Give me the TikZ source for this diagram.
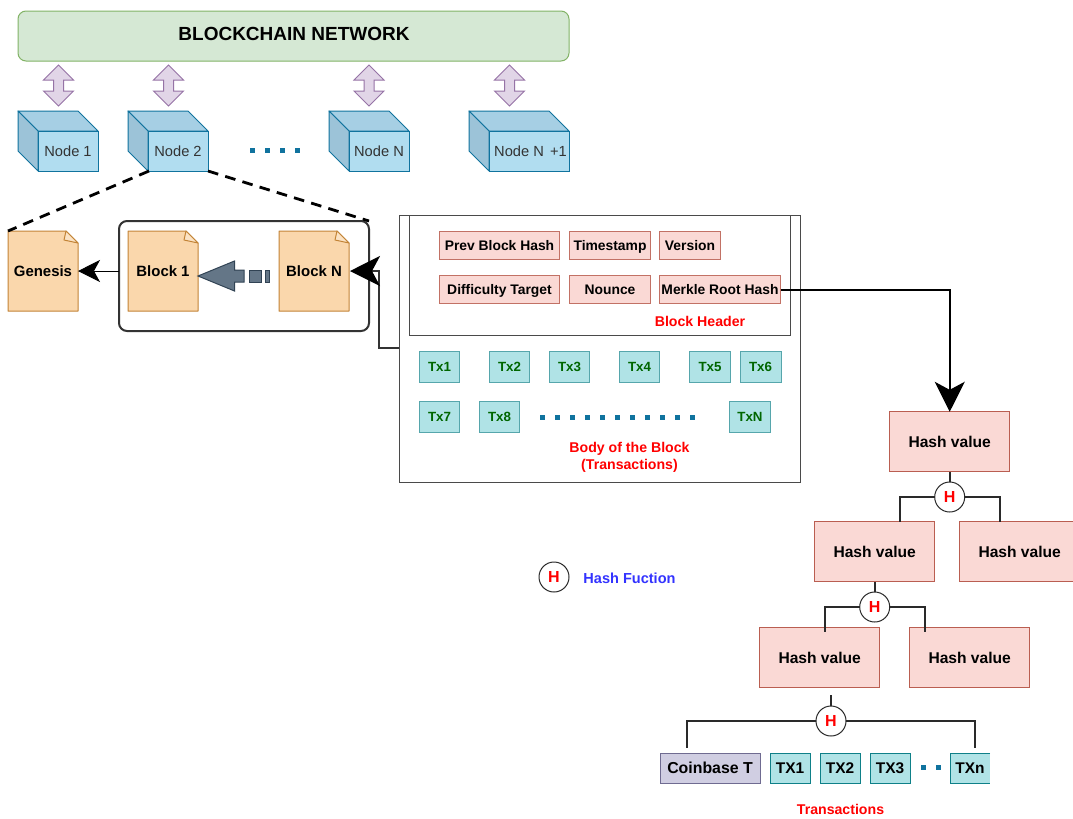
\documentclass[tikz,border=0pt]{standalone}
\usepackage{fontspec}
\setmainfont{Liberation Sans}
\usetikzlibrary{arrows.meta,calc}
\definecolor{netfill}{HTML}{D5E8D4}\definecolor{netline}{HTML}{82B366}
\definecolor{purfill}{HTML}{E1D5E7}\definecolor{purline}{HTML}{9673A6}
\definecolor{cubefill}{HTML}{B1DDF0}\definecolor{cubetop}{HTML}{A6CFE4}\definecolor{cubeside}{HTML}{9CC3D8}\definecolor{cubeline}{HTML}{10739E}
\definecolor{notefill}{HTML}{FAD7AC}\definecolor{noteline}{HTML}{B46504}\definecolor{notefold}{HTML}{FBE3C5}
\definecolor{redfill}{HTML}{FAD9D5}\definecolor{redline}{HTML}{AE4132}
\definecolor{txfill}{HTML}{B0E3E6}\definecolor{txline}{HTML}{0E8088}\definecolor{txtext}{HTML}{006600}
\definecolor{cbfill}{HTML}{D0CEE2}\definecolor{cbline}{HTML}{56517E}
\definecolor{slatefill}{HTML}{647687}\definecolor{slateline}{HTML}{314354}
\definecolor{darkline}{HTML}{2A2A2A}\definecolor{frameline}{HTML}{333333}\definecolor{grayline}{HTML}{4A4A4A}
\definecolor{nodetext}{HTML}{333333}\definecolor{legendblue}{HTML}{3333FF}
\tikzset{
  sz/.style 2 args={minimum width=#1*0.75pt,minimum height=#2*0.75pt,inner sep=0pt,outer sep=0pt},
  netbox/.style={draw=netline,fill=netfill,rounded corners=6pt,line width=0.75pt},
  dblarrow/.style={draw=purline,fill=purfill,line width=0.75pt,line join=miter},
  cubelabel/.style={sz={60}{40},text=nodetext,text height=10pt,text depth=2.3pt,font=\fontsize{11}{13}\selectfont},
  notelabel/.style={sz={70}{80},text height=10.1pt,text depth=2.4pt,font=\fontsize{11.2}{13}\selectfont\bfseries},
  hdrbox/.style={draw=redline!75!white,fill=redfill,line width=0.75pt,text height=9.4pt,text depth=2.2pt,font=\fontsize{10.4}{12}\selectfont\bfseries},
  txbox/.style={draw=txline!70!white,fill=txfill,line width=0.75pt,text=txtext,text height=9pt,text depth=2.1pt,font=\fontsize{10}{12}\selectfont\bfseries},
  hashbox/.style={draw=redline!85!white,fill=redfill,line width=0.75pt,sz={120}{60},text height=10.6pt,text depth=2.5pt,font=\fontsize{11.7}{14}\selectfont\bfseries},
  hcirc/.style={circle,draw=darkline,fill=white,line width=0.75pt,minimum size=30*0.75pt,inner sep=0pt,outer sep=0pt,text=red,font=\fontsize{12}{14}\selectfont\bfseries},
  leaf/.style={draw=txline,fill=txfill,line width=0.75pt,text height=10.5pt,text depth=2.4pt,font=\fontsize{11.6}{14}\selectfont\bfseries},
  redlabel/.style={text=red,align=center,inner sep=0pt,font=\fontsize{10.6}{12.8}\selectfont\bfseries},
  tree/.style={draw=darkline,line width=1.7pt},
  dashconn/.style={black,line width=2.1pt,dash pattern=on 8pt off 5.5pt},
  dotrow/.style={fill=cubeline},
  bigtip/.style={-{Stealth[length=30*0.75pt,width=30*0.75pt,inset=8*0.75pt,color=black,fill=black]}},
  smalltip/.style={-{Stealth[length=22*0.75pt,width=22*0.75pt,inset=6*0.75pt,color=black,fill=black]}},
  slate/.style={draw=slateline,fill=slatefill,line width=0.75pt},
}
\newcommand{\cubeat}[2]{%
  \begin{scope}[shift={(#1,111)}]
    \filldraw[draw=cubeline,fill=cubetop,line width=0.75pt,line join=round] (0,0)--(#2-20,0)--(#2,20)--(20,20)--cycle;
    \filldraw[draw=cubeline,fill=cubeside,line width=0.75pt,line join=round] (0,0)--(20,20)--(20,60)--(0,40)--cycle;
    \filldraw[draw=cubeline,fill=cubefill,line width=0.75pt] (20,20) rectangle (#2,60);
  \end{scope}}
\newcommand{\notebody}[1]{%
  \begin{scope}[shift={(#1,231)}]
    \filldraw[draw=noteline!80!white,fill=notefill,line width=0.75pt,line join=round] (0,0)--(58,0)--(70,12)--(70,80)--(0,80)--cycle;
    \filldraw[draw=noteline!80!white,fill=notefold,line width=0.75pt,line join=round] (58,0)--(70,12)--(56,9)--cycle;
  \end{scope}}
\newcommand{\dblarrowat}[1]{%
  \begin{scope}[shift={(#1,0)}]
    \filldraw[dblarrow] (0,65)--(15,80)--(5,80)--(5,91)--(15,91)--(0,106)--(-15,91)--(-5,91)--(-5,80)--(-15,80)--cycle;
  \end{scope}}
\begin{document}
\begin{tikzpicture}[x=0.75pt,y=-0.75pt]
\useasboundingbox (0,0) rectangle (1073,818);
\clip (0,0) rectangle (1073,818);
\fill[white] (0,0) rectangle (1073,818);

% network
\node[netbox,sz={551}{50}] (net) at (293.5,36) {};
\node[inner sep=0pt,font=\fontsize{14.25}{16}\selectfont\bfseries] (nettext) at (294,34) {BLOCKCHAIN NETWORK};
\dblarrowat{58.5}
\dblarrowat{168.5}
\dblarrowat{369}
\dblarrowat{509.5}

% cubes
\cubeat{18}{80}
\node[cubelabel] (n1) at (68,151) {Node 1};
\cubeat{128}{80}
\node[cubelabel] (n2) at (178,151) {Node 2};
\cubeat{329}{80}
\node[cubelabel] (n3) at (379,151) {Node N};
\cubeat{469}{100}
\node[cubelabel,sz={80}{40}] (n4) at (530.5,151) {Node N\hspace{1.5pt} +1};
\foreach \x in {252,267,282,297} \fill[dotrow] (\x-2.5,147.5) rectangle (\x+2.5,152.5);

% chain
\node[draw=frameline,line width=1.5pt,rounded corners=6pt,sz={250}{110}] (frame) at (244,276) {};
\notebody{8}
\notebody{128}
\notebody{279}
\node[notelabel] (gen) at (43,271.5) {Genesis};
\node[notelabel] (b1) at (163,271.5) {Block 1};
\node[notelabel] (bn) at (314,271.5) {Block N};
\coordinate (n2sw) at (149,171);
\coordinate (n2se) at (208,171);
\coordinate (gnw) at (8,231);
\draw[dashconn] (n2sw) -- (gnw);
\draw[dashconn] (n2se) -- (frame.north east);
\coordinate (frw) at (119,271);
\coordinate (gne) at (78,271);
\draw[black,line width=0.75pt,smalltip] (frw) -- (gne);

% block arrow with trailing dashes
\filldraw[slate,line join=miter] (198,276)--(234.5,261)--(234.5,270)--(244,270)--(244,282)--(234.5,282)--(234.5,291)--cycle;
\node[slate,sz={12}{12}] (blk2) at (255.5,276) {};
\node[slate,sz={4}{12}] (blk3) at (267,276) {};

% block
\node[draw=grayline,line width=0.75pt,sz={401}{267}] (body) at (599.5,348.5) {};
\node[draw=grayline,line width=0.75pt,sz={381}{120}] (head) at (599.5,275) {};
\begin{scope}[shift={(0.5,0.5)}]
\node[hdrbox,sz={120}{28}] (prev) at (499,245) {Prev Block Hash};
\node[hdrbox,sz={81}{28}] (time) at (609.5,245) {Timestamp};
\node[hdrbox,sz={61}{28}] (ver) at (689.5,245) {Version};
\node[hdrbox,sz={120}{28}] (diff) at (499,289) {Difficulty Target};
\node[hdrbox,sz={81}{28}] (nou) at (609.5,289) {Nounce};
\node[hdrbox,sz={121}{28}] (mrk) at (719.5,289) {Merkle Root Hash};
\node[txbox,sz={40}{31}] (t1) at (439,366.5) {Tx1};
\node[txbox,sz={40}{31}] (t2) at (509,366.5) {Tx2};
\node[txbox,sz={40}{31}] (t3) at (569,366.5) {Tx3};
\node[txbox,sz={40}{31}] (t4) at (639,366.5) {Tx4};
\node[txbox,sz={41}{31}] (t5) at (709.5,366.5) {Tx5};
\node[txbox,sz={41}{31}] (t6) at (760,366.5) {Tx6};
\node[txbox,sz={40}{31}] (t7) at (439,416.5) {Tx7};
\node[txbox,sz={40}{31}] (t8) at (499,416.5) {Tx8};
\node[txbox,sz={41}{31}] (tn) at (749.5,416.5) {TxN};
\end{scope}
\node[redlabel] (hdrt) at (700,321) {Block Header};
\foreach \x in {542,557,...,692} \fill[dotrow] (\x-2.5,414.5) rectangle (\x+2.5,419.5);
\node[redlabel] (bodyt) at (629.5,457.5) {Body of the Block\\(Transactions)};

% connector body to block N
\coordinate (bp) at (399,348);
\coordinate (bq) at (379,348);
\coordinate (br) at (379,271);
\coordinate (bne) at (350,271);
\draw[draw=frameline,line width=1.5pt,bigtip] (bp) -- (bq) -- (br) -- (bne);

% merkle tree
\node[hashbox] (h0) at (949.7,441.8) {Hash value};
\node[hashbox] (h1) at (874.7,551.8) {Hash value};
\node[hashbox] (h2) at (1019.7,551.8) {Hash value};
\node[hashbox] (h3) at (819.7,657.8) {Hash value};
\node[hashbox] (h4) at (969.7,657.8) {Hash value};
\coordinate (mc) at (h0.north |- mrk.east);
\draw[black,line width=1.5pt,bigtip] (mrk.east) -- (mc) -- (h0.north);

\node[hcirc] (c1) at (949.7,497) {H};
\node[hcirc] (c2) at (874.7,607) {H};
\node[hcirc] (c3) at (831,721) {H};
\coordinate (e1) at (900,522);
\coordinate (e2) at (1000,522);
\coordinate (e3) at (825,632);
\coordinate (e4) at (925,632);
\coordinate (e5) at (687,748);
\coordinate (e6) at (975,748);
\coordinate (e7) at (831,695);
\draw[tree] (h0.south) -- (c1.north);
\draw[tree] (c1.west) -| (e1);
\draw[tree] (c1.east) -| (e2);
\draw[tree] (h1.south) -- (c2.north);
\draw[tree] (c2.west) -| (e3);
\draw[tree] (c2.east) -| (e4);
\draw[tree] (e7) -- (c3.north);
\draw[tree] (c3.west) -| (e5);
\draw[tree] (c3.east) -| (e6);

% leaves
\node[draw=cbline!85!white,fill=cbfill,line width=0.75pt,sz={100}{30},text height=10.7pt,text depth=2.5pt,font=\fontsize{11.9}{14}\selectfont\bfseries] (cb) at (710,768) {Coinbase T};
\node[leaf,sz={40}{30}] (l1) at (790,768) {TX1};
\node[leaf,sz={40}{30}] (l2) at (840,768) {TX2};
\node[leaf,sz={40}{30}] (l3) at (890,768) {TX3};
\node[fill=txfill,sz={40}{30},text height=10.5pt,text depth=2.4pt,font=\fontsize{11.6}{14}\selectfont\bfseries] (ln) at (970,768) {TXn};
\draw[draw=txline,line width=0.75pt] (ln.north east) -- (ln.north west) -- (ln.south west) -- (ln.south east);
\foreach \x in {923,938} \fill[dotrow] (\x-2.5,765) rectangle (\x+2.5,770);
\node[redlabel] (trt) at (840.5,809) {Transactions};

% legend
\node[hcirc] (lg) at (554,577) {H};
\node[inner sep=0pt,text=legendblue,font=\fontsize{10.9}{13}\selectfont\bfseries] (lgt) at (629.5,578) {Hash Fuction};
\end{tikzpicture}
\end{document}
